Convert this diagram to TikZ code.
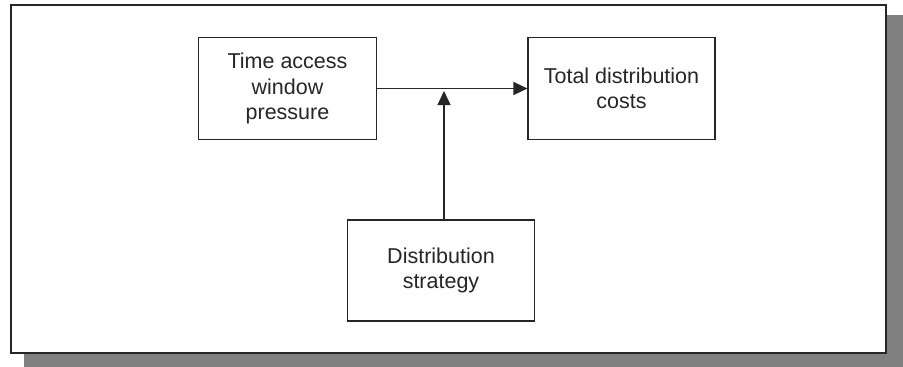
\documentclass[tikz,border=0pt]{standalone}
\usepackage{fontspec}
\setmainfont{Liberation Sans}
\usetikzlibrary{arrows.meta}

\tikzset{
  factor/.style={draw=black!85, line width=1.1pt, align=center, inner sep=0pt,
    font=\fontsize{21.5}{25.5}\selectfont, text=black!85},
  link/.style={draw=black!85, line width=1.1pt, -{Triangle[length=14pt,width=13pt]}}
}

\begin{document}
\begin{tikzpicture}[x=1pt,y=-1pt]

\useasboundingbox (0,0) rectangle (903,367);

\fill[black!50!white] (24,15) rectangle (903,367);
\fill[white] (10.7,5) rectangle (886,353);
\draw[black!85,line width=1.6pt] (10.7,5) rectangle (886,353);

\node[factor, minimum width=178pt, minimum height=101.6pt] (pressure) at (287.5,88.5)
  {Time access\\window\\pressure};
\node[factor, minimum width=187pt, minimum height=101.6pt] (costs) at (621.5,88.5)
  {Total distribution\\costs};
\node[factor, minimum width=186.6pt, minimum height=101pt] (strategy) at (441,270.5)
  {Distribution\\strategy};

\coordinate (join) at (444,91);

\draw[link] (pressure.east) -- (costs.west);
\draw[link] (join |- strategy.north) -- (join);

\end{tikzpicture}
\end{document}
